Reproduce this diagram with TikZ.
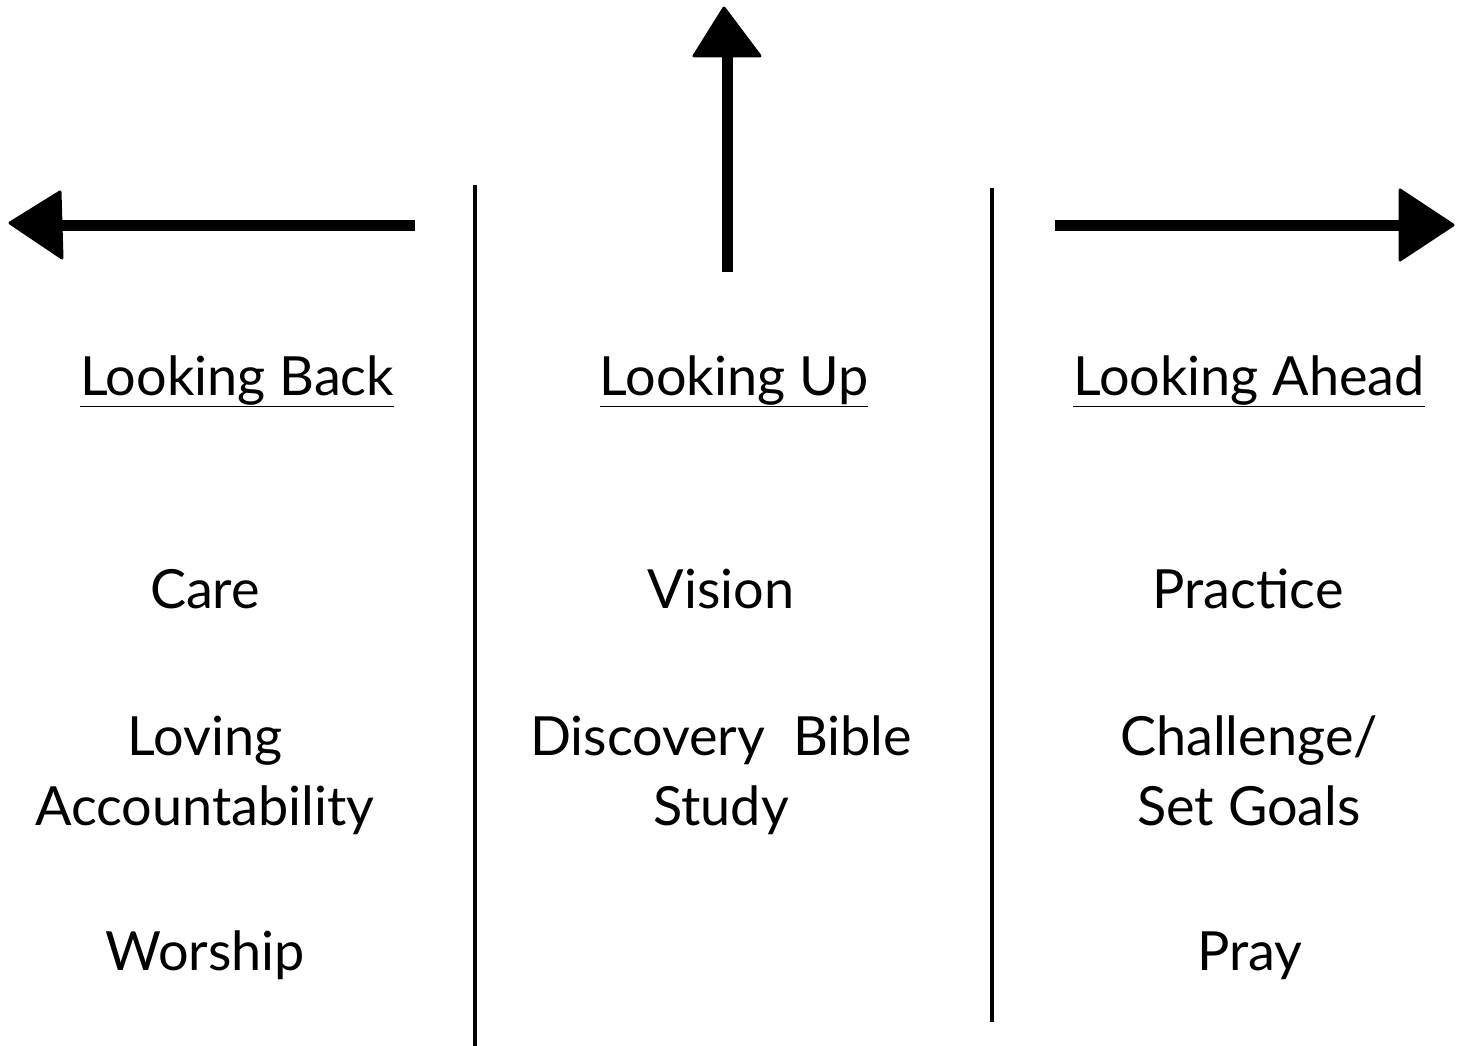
\documentclass[tikz,border=0pt]{standalone}
\usepackage{fontspec}
\setmainfont{Lato}
\begin{document}
\begin{tikzpicture}[x=1pt,y=-1pt,
  lbl/.style={anchor=base,inner sep=0pt,font=\fontsize{54}{70}\selectfont,align=center},
  shaft/.style={line width=11pt},
  head/.style={fill=black,draw=black,line width=3pt,line join=round},
  divider/.style={line width=4pt}]
\useasboundingbox (0,0) rectangle (1467,1046);
% arrows
\coordinate (lb0) at (415,225); \coordinate (lb1) at (50,225);
\draw[shaft] (lb0) -- (lb1);
\path[head] (10,223) -- (60,192) -- (62,258) -- cycle;
\coordinate (up0) at (727,272); \coordinate (up1) at (727,50);
\draw[shaft] (up0) -- (up1);
\path[head] (724,8) -- (760,56) -- (694,56) -- cycle;
\coordinate (ra0) at (1055,225); \coordinate (ra1) at (1410,225);
\draw[shaft] (ra0) -- (ra1);
\path[head] (1453,225) -- (1400,190) -- (1400,260) -- cycle;
% dividers
\coordinate (d1a) at (475,185); \coordinate (d1b) at (475,1046);
\coordinate (d2a) at (992,188); \coordinate (d2b) at (992,1022);
\draw[divider] (d1a) -- (d1b);
\draw[divider] (d2a) -- (d2b);
% headings
\node[lbl] (hb) at (237,395) {\underline{Looking Back}};
\node[lbl] (hu) at (734,395) {\underline{Looking Up}};
\node[lbl] (ha) at (1249,395) {\underline{Looking Ahead}};
% items
\node[lbl] (care) at (205,608) {Care};
\node[lbl] (vis) at (721,608) {Vision};
\node[lbl] (prac) at (1248,608) {Practice};
\node[lbl] (lov) at (205,825) {Loving\\Accountability};
\node[lbl] (dbs) at (721,825) {Discovery~~Bible\\Study};
\node[lbl] (chal) at (1249,825) {Challenge/\\Set Goals};
\node[lbl] (wor) at (205,970) {Worship};
\node[lbl] (pray) at (1250,970) {Pray};
\end{tikzpicture}
\end{document}
